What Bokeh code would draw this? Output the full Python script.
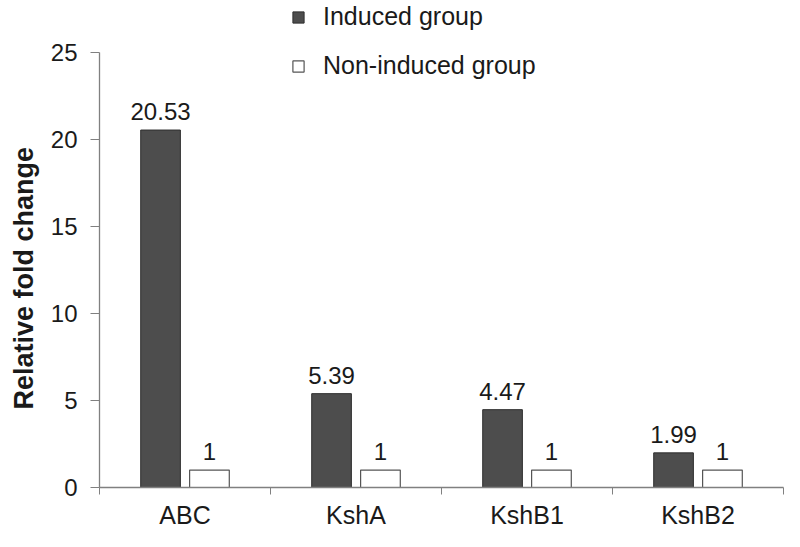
import numpy as np
from bokeh.plotting import figure
from bokeh.models import ColumnDataSource, FixedTicker, Legend, LegendItem, Range1d, Title
from bokeh.core.properties import value
from bokeh.embed import file_html
from bokeh.resources import INLINE

# ---- data ----
genes = ["ABC", "KshA", "KshB1", "KshB2"]
induced = [20.53, 5.39, 4.47, 1.99]
non_induced = [1, 1, 1, 1]
induced_labels = ["20.53", "5.39", "4.47", "1.99"]
non_induced_labels = ["1", "1", "1", "1"]
y_ticks = [0, 5, 10, 15, 20, 25]
y_max = 25
y_title = "Relative fold change"

FONT = "Liberation Sans"
centers = np.arange(len(genes)) + 0.5
dodge = 0.143
bar_w = 0.232

src_i = ColumnDataSource(dict(x=centers - dodge, top=induced, lab=induced_labels))
src_n = ColumnDataSource(dict(x=centers + dodge, top=non_induced, lab=non_induced_labels))

p = figure(width=784, height=531, output_backend="svg", toolbar_location=None,
           title=None,
           x_range=Range1d(0, len(genes)), y_range=Range1d(0, 27.97),
           min_border_left=99, min_border_right=1, min_border_top=0,
           min_border_bottom=41)
p.xgrid.grid_line_color = None
p.ygrid.grid_line_color = None
p.outline_line_color = None
p.background_fill_color = "white"

r_i = p.vbar(x="x", top="top", width=bar_w, source=src_i,
             fill_color="#4d4d4d", line_color="#2e2e2e", line_width=1)
r_n = p.vbar(x="x", top="top", width=bar_w, source=src_n,
             fill_color="white", line_color="#555555", line_width=1.2)

for src in (src_i, src_n):
    p.text(x="x", y="top", text="lab", source=src, text_align="center",
           text_baseline="bottom", y_offset=-10,
           text_font=value(FONT), text_font_size="24px", text_color="#1a1a1a")

# y axis
yax = p.yaxis[0]
yax.bounds = (0, y_max)
yax.ticker = FixedTicker(ticks=y_ticks)
yax.major_label_text_font = FONT
yax.major_label_text_font_size = "24px"
yax.major_label_text_color = "#1a1a1a"
yax.major_label_standoff = 13
yax.major_tick_out = 9
yax.major_tick_in = 0
yax.minor_tick_line_color = None
yax.axis_line_color = "#808080"
yax.major_tick_line_color = "#808080"
yax.axis_line_width = 1.3

# y axis title, placed along the 0..25 span of the axis
ytitle = Title(text=y_title, align="left", offset=78, standoff=14,
               vertical_align="top",
               text_font=FONT, text_font_style="bold", text_font_size="27px",
               text_color="#1a1a1a")
p.add_layout(ytitle, "left")

# x axis
xax = p.xaxis[0]
xax.axis_label = None
xax.ticker = FixedTicker(ticks=list(centers), minor_ticks=list(range(len(genes) + 1)))
xax.major_label_overrides = {float(c): g for c, g in zip(centers, genes)}
xax.major_label_text_font = FONT
xax.major_label_text_font_size = "25px"
xax.major_label_text_color = "#1a1a1a"
xax.major_label_standoff = 6
xax.major_tick_line_color = None
xax.major_tick_out = 0
xax.major_tick_in = 0
xax.minor_tick_out = 7
xax.minor_tick_in = 0
xax.minor_tick_line_color = "#808080"
xax.axis_line_color = "#808080"
xax.axis_line_width = 1.3

legend = Legend(items=[LegendItem(label="Induced group", renderers=[r_i]),
                       LegendItem(label="Non-induced group", renderers=[r_n])],
                location=(192, 407), orientation="vertical",
                glyph_width=14, glyph_height=14, label_standoff=18,
                label_height=28,
                label_text_font=FONT, label_text_font_size="25px",
                label_text_color="#1a1a1a", spacing=20, padding=0, margin=0,
                border_line_color=None, background_fill_alpha=0)
p.add_layout(legend, "center")

open("out.html", "w").write(file_html(p, INLINE))
